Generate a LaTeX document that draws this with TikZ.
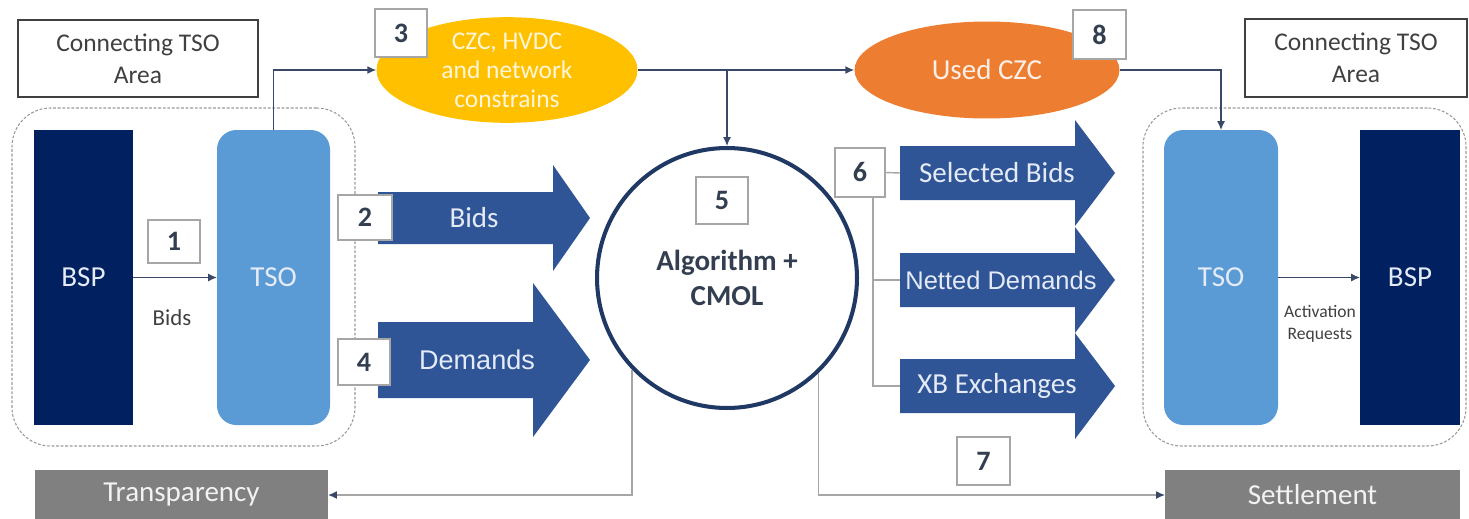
\documentclass[tikz,border=0pt]{standalone}
\usepackage{fontspec}
\setmainfont{Carlito}
\newfontfamily\arialf{Liberation Sans}
\usetikzlibrary{shapes.geometric,arrows.meta}
\definecolor{bspc}{HTML}{002060}
\definecolor{tsoc}{HTML}{5B9BD5}
\definecolor{arrc}{HTML}{2F5597}
\definecolor{yelc}{HTML}{FFC000}
\definecolor{orac}{HTML}{ED7D31}
\definecolor{grayc}{HTML}{808080}
\definecolor{circc}{HTML}{1F3864}
\definecolor{linec}{HTML}{3A4868}
\definecolor{lgline}{HTML}{A6A6A6}
\definecolor{txtc}{HTML}{404040}
\definecolor{numc}{HTML}{333F50}
\definecolor{lighttxt}{HTML}{E4EBF6}
% x0 x1 x2 yc halfshaft halfhead
\newcommand\blockarrow[6]{%
  \fill[arrc] ({#1},{#4-#5}) -- ({#2},{#4-#5}) -- ({#2},{#4-#6}) -- ({#3},{#4})
    -- ({#2},{#4+#6}) -- ({#2},{#4+#5}) -- ({#1},{#4+#5}) -- cycle;}
\begin{document}
\begin{tikzpicture}[x=0.02cm,y=-0.02cm,
  span/.style n args={4}{minimum width={(#3-#1)*0.02cm}, minimum height={(#4-#2)*0.02cm},
     at={({(#1+#3)/2},{(#2+#4)/2})}, inner sep=0, outer sep=0},
  numbox/.style={draw=gray!70, line width=0.8pt, fill=white, text=numc, font=\fontsize{16}{18}\selectfont\bfseries},
  areabox/.style={draw=txtc, line width=1.2pt, fill=white, text=txtc, align=center, font=\fontsize{14.5}{18}\selectfont},
  container/.style={draw=gray!80, line width=0.6pt, dash pattern=on 1.6pt off 1pt, rounded corners=22pt},
  bspbox/.style={fill=bspc, text=lighttxt, font=\fontsize{16.5}{19}\selectfont},
  tsobox/.style={fill=tsoc, rounded corners=11pt, text=lighttxt, font=\fontsize{16.5}{19}\selectfont},
  conn/.style={draw=linec, line width=0.7pt, -{Latex[length=5pt,width=4.5pt]}},
  gline/.style={draw=lgline, line width=0.8pt},
  garrow/.style={draw=lgline, line width=0.8pt, -{Latex[length=5pt,width=4.5pt,color=linec]}},
  arrlabel/.style={text=lighttxt, font=\fontsize{16.5}{19}\selectfont, inner sep=0},
  graybox/.style={fill=grayc, text=white!90!gray, font=\fontsize{16.5}{19}\selectfont},
]
\useasboundingbox (0,0) rectangle (1469,518);

% containers
\node[container, span={12}{108}{355}{446}] (areaL) {};
\node[container, span={1143}{108}{1466}{446}] (areaR) {};

% area titles
\node[areabox, span={18}{20}{258}{97}] (ctaL) {Connecting TSO\\Area};
\node[areabox, span={1245}{19}{1467}{97}] (ctaR) {Connecting TSO\\Area};

% BSP / TSO blocks
\node[bspbox, span={34}{130}{133}{425}] (bspL) {BSP};
\node[tsobox, span={217}{130}{330}{425}] (tsoL) {TSO};
\node[tsobox, span={1164}{130}{1278}{425}] (tsoR) {TSO};
\node[bspbox, span={1360}{130}{1460}{425}] (bspR) {BSP};

% ellipses
\node[ellipse, fill=yelc, minimum width=5.22cm, minimum height=1.92cm, inner sep=0,
      text=white!85!yelc, align=center, font=\fontsize{14.5}{16.5}\selectfont] (czc) at (507,70) {CZC, HVDC\\and network\\constrains};
\node[ellipse, fill=orac, minimum width=5.3cm, minimum height=1.94cm, inner sep=0,
      text=white!88!orac, font=\fontsize{16.5}{19}\selectfont] (used) at (987,70) {Used CZC};

% central circle
\node[circle, draw=circc, line width=2.3pt, fill=white, minimum size=5.2cm, inner sep=0,
      text=numc, align=center, font=\fontsize{16.5}{20}\selectfont\bfseries] (alg) at (727,278) {Algorithm +\\CMOL};

% block arrows
\blockarrow{378}{553}{590}{218}{26}{53}
\node[arrlabel] (lbids) at (474,218) {Bids};
\blockarrow{378}{533}{590}{360}{38}{77}
\node[arrlabel, font=\arialf\fontsize{15.4}{18}\selectfont] (ldem) at (477,360) {Demands};
\blockarrow{900}{1075}{1115}{173}{27}{53}
\node[arrlabel] (lsel) at (997,173) {Selected Bids};
\blockarrow{900}{1075}{1115}{280}{27}{53}
\node[arrlabel, font=\arialf\fontsize{14.5}{17}\selectfont] (lnet) at (1001,280) {Netted Demands};
\blockarrow{900}{1075}{1115}{386}{27}{53}
\node[arrlabel] (lxb) at (997,386) {XB Exchanges};
\coordinate (selL) at (900,173);
\coordinate (netL) at (900,280);
\coordinate (xbL) at (900,386);

% bottom boxes
\node[graybox, span={35}{470}{328}{520}] (trans) {Transparency};
\node[graybox, span={1165}{470}{1460}{520}] (settle) {Settlement};

% number boxes
\node[numbox, span={148}{220}{200}{263}] (n1) {1};
\node[numbox, span={338}{195}{392}{240}] (n2) {2};
\node[numbox, span={375}{9}{427}{57}] (n3) {3};
\node[numbox, span={338}{339}{390}{385}] (n4) {4};
\node[numbox, span={696}{177}{748}{224}] (n5) {5};
\node[numbox, span={835}{148}{885}{197}] (n6) {6};
\node[numbox, span={957}{437}{1010}{485}] (n7) {7};
\node[numbox, span={1073}{10}{1126}{59}] (n8) {8};

% connectors
\draw[conn] (bspL) -- (tsoL);
\node[text=txtc, font=\fontsize{13}{15}\selectfont] (lb1) at (172,318) {Bids};
\draw[conn] (tsoL.north) |- (czc.west);
\draw[conn] (czc.east) -- (used.west);
\coordinate (j1) at (727,70);
\draw[conn] (j1) -- (alg.north);
\draw[conn] (used.east) -| (tsoR.north);
\draw[conn] (tsoR) -- (bspR);
\node[text=txtc, align=center, font=\fontsize{10}{12.5}\selectfont] (lact) at (1320,324) {Activation\\Requests};

\draw[garrow] (alg.224) |- (trans.east);
\draw[garrow] (alg.314) |- (settle.west);

\draw[gline] (n6.east) -- (selL);
\draw[gline] ([xshift=0.26cm]n6.south) |- (netL);
\draw[gline] ([xshift=0.26cm]n6.south) |- (xbL);
\end{tikzpicture}
\end{document}
